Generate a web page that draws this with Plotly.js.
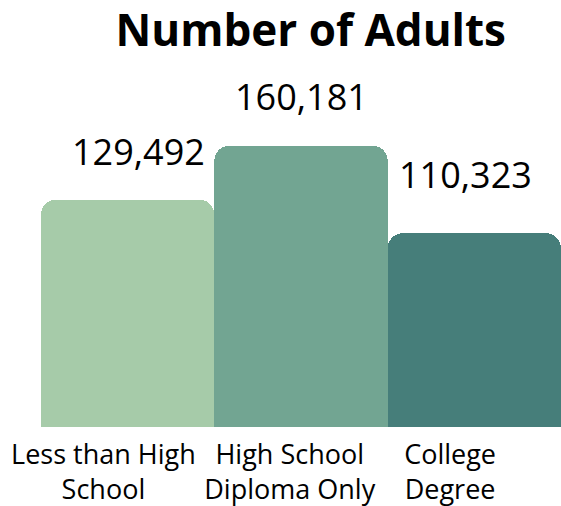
<!DOCTYPE html>
<html>
<head>
<meta charset="utf-8">
<script src="https://cdn.plot.ly/plotly-3.0.1.min.js"></script>
<style>html,body{margin:0;padding:0;background:#fff;}#chart{width:561px;height:506px;}</style>
</head>
<body>
<div id="chart"></div>
<script>
const categories = ["Less than High<br>School", "High School<br>Diploma Only", "College<br>Degree"];
const adults = [129492, 160181, 110323];
const valueLabels = ["129,492", "160,181", "110,323"];
const barColors = ["#a6cba9", "#72a592", "#467e7a"];

const labelOffsetX = [0.06, 0, -0.05];
const labelOffsetY = [48, 49, 59];
const tickOffsetX = [-0.14, -0.065, -0.14];

const FONT = "Open Sans, sans-serif";

const trace = {
  type: "bar",
  x: [0, 1, 2],
  y: adults,
  marker: { color: barColors, cornerradius: 15 },
  hoverinfo: "none"
};

const annotations = adults.map((v, i) => ({
  x: i + labelOffsetX[i],
  y: v,
  xref: "x",
  yref: "y",
  text: valueLabels[i],
  showarrow: false,
  yanchor: "middle",
  xanchor: "center",
  yshift: labelOffsetY[i],
  font: { family: FONT, size: 36, color: "#000" }
}));

const layout = {
  width: 561,
  height: 506,
  margin: { l: 41, r: 0, t: 60, b: 79, pad: 0 },
  paper_bgcolor: "#fff",
  plot_bgcolor: "#fff",
  bargap: 0,
  showlegend: false,
  title: {
    text: "<b>Number of Adults</b>",
    x: 0.554,
    xanchor: "center",
    y: 0.94,
    yanchor: "middle",
    font: { family: FONT, size: 44, color: "#000" }
  },
  xaxis: {
    range: [-0.5, 2.5],
    tickmode: "array",
    tickvals: [0, 1, 2].map((v, i) => v + tickOffsetX[i]),
    ticktext: categories,
    showgrid: false,
    zeroline: false,
    showline: false,
    ticks: "",
    ticklabelstandoff: 9,
    tickfont: { family: FONT, size: 27, color: "#000" },
    fixedrange: true
  },
  yaxis: {
    range: [0, 209000],
    visible: false,
    showgrid: false,
    zeroline: false,
    fixedrange: true
  },
  annotations: annotations
};

Plotly.newPlot("chart", [trace], layout, { displayModeBar: false, staticPlot: true });
</script>
</body>
</html>
